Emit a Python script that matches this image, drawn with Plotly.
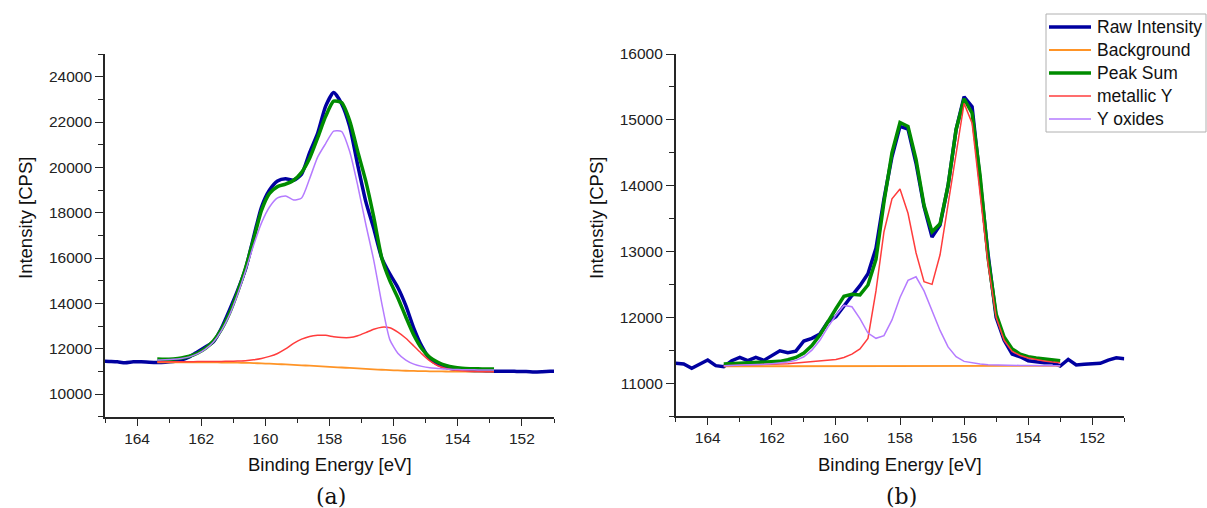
import plotly.graph_objects as go

# ---- (a) Y 3d spectrum -------------------------------------------------
a_raw_be = [165.12, 164.87, 164.62, 164.37, 164.12, 163.87, 163.62, 163.37, 163.12, 162.87,
            162.62, 162.37, 162.12, 161.87, 161.62, 161.37, 161.12, 160.87, 160.62, 160.37,
            160.12, 159.87, 159.62, 159.37, 159.12, 158.87, 158.62, 158.37, 158.12, 157.87,
            157.62, 157.37, 157.12, 156.87, 156.62, 156.37, 156.12, 155.87, 155.62, 155.37,
            155.12, 154.87, 154.62, 154.37, 154.12, 153.87, 153.62, 153.37, 153.12, 152.87,
            152.62, 152.37, 152.12, 151.87, 151.62, 151.37, 151.12, 150.87]
a_raw = [11460, 11440, 11420, 11380, 11420, 11420, 11400, 11390, 11400, 11430,
         11500, 11640, 11860, 12080, 12300, 12900, 13700, 14550, 15500, 16900,
         18250, 19000, 19400, 19500, 19430, 19700, 20650, 21500, 22700, 23300,
         22800, 21800, 20100, 18500, 17300, 16000, 15300, 14700, 13900, 12900,
         12100, 11550, 11300, 11180, 11100, 11060, 11040, 11030, 11020, 11010,
         11000, 11010, 10990, 10995, 10975, 10985, 11000, 11020]

a_fit_be = [163.37, 163.12, 162.87, 162.62, 162.37, 162.12, 161.87, 161.62, 161.37, 161.12,
            160.87, 160.62, 160.37, 160.12, 159.87, 159.62, 159.37, 159.12, 158.87, 158.62,
            158.37, 158.12, 157.87, 157.62, 157.37, 157.12, 156.87, 156.62, 156.37, 156.12,
            155.87, 155.62, 155.37, 155.12, 154.87, 154.62, 154.37, 154.12, 153.87, 153.62,
            153.37, 153.12, 152.87]
a_background = [11400, 11400, 11400, 11400, 11400, 11400, 11398, 11395, 11392, 11388,
                11382, 11375, 11365, 11352, 11338, 11322, 11305, 11286, 11268, 11250,
                11230, 11210, 11190, 11170, 11150, 11130, 11110, 11090, 11072, 11055,
                11040, 11028, 11018, 11010, 11003, 10998, 10994, 10991, 10989, 10987,
                10986, 10985, 10985]
a_peak_sum = [11540, 11530, 11550, 11590, 11665, 11800, 12010, 12340, 12850, 13560,
              14480, 15550, 16800, 18100, 18850, 19150, 19260, 19430, 19780, 20400,
              21300, 22250, 22920, 22850, 22050, 20700, 19400, 17800, 16000, 15000,
              14250, 13400, 12600, 12000, 11620, 11400, 11260, 11180, 11140, 11120,
              11110, 11105, 11100]
a_metallic = [11420, 11420, 11420, 11425, 11425, 11430, 11430, 11435, 11440, 11445,
              11455, 11470, 11510, 11570, 11660, 11790, 11990, 12230, 12420, 12540,
              12590, 12590, 12530, 12490, 12490, 12570, 12710, 12860, 12950, 12920,
              12730, 12460, 12120, 11770, 11460, 11250, 11130, 11060, 11030, 11010,
              11000, 10995, 10990]
a_oxides = [11500, 11510, 11530, 11570, 11640, 11770, 11980, 12300, 12800, 13480,
            14380, 15420, 16550, 17550, 18250, 18650, 18740, 18560, 18650, 19500,
            20450, 21050, 21600, 21580, 20700, 19200, 17500, 15900, 14000, 12400,
            11800, 11500, 11320, 11220, 11160, 11130, 11100, 11085, 11075, 11070,
            11065, 11060, 11060]

# ---- (b) Y 3d spectrum -------------------------------------------------
b_raw_be = [165.0, 164.75, 164.5, 164.25, 164.0, 163.75, 163.5, 163.25, 163.0, 162.75,
            162.5, 162.25, 162.0, 161.75, 161.5, 161.25, 161.0, 160.75, 160.5, 160.25,
            160.0, 159.75, 159.5, 159.25, 159.0, 158.75, 158.5, 158.25, 158.0, 157.75,
            157.5, 157.25, 157.0, 156.75, 156.5, 156.25, 156.0, 155.75, 155.5, 155.25,
            155.0, 154.75, 154.5, 154.25, 154.0, 153.75, 153.5, 153.25, 153.0, 152.75,
            152.5, 152.25, 152.0, 151.75, 151.5, 151.25, 151.0]
b_raw = [11300, 11290, 11225, 11290, 11350, 11265, 11250, 11340, 11390, 11340,
         11390, 11345, 11420, 11490, 11460, 11485, 11640, 11680, 11745, 11930,
         12010, 12180, 12330, 12480, 12660, 13050, 13800, 14440, 14900, 14860,
         14340, 13680, 13220, 13400, 14000, 14850, 15350, 15200, 14100, 12950,
         12000, 11650, 11440, 11400, 11340, 11320, 11310, 11310, 11260, 11360,
         11275, 11285, 11290, 11300, 11350, 11385, 11370]

b_fit_be = [163.5, 163.25, 163.0, 162.75, 162.5, 162.25, 162.0, 161.75, 161.5, 161.25,
            161.0, 160.75, 160.5, 160.25, 160.0, 159.75, 159.5, 159.25, 159.0, 158.75,
            158.5, 158.25, 158.0, 157.75, 157.5, 157.25, 157.0, 156.75, 156.5, 156.25,
            156.0, 155.75, 155.5, 155.25, 155.0, 154.75, 154.5, 154.25, 154.0, 153.75,
            153.5, 153.25, 153.0]
b_background = [11255, 11255, 11255, 11255, 11255, 11256, 11256, 11256, 11256, 11257,
                11257, 11257, 11257, 11258, 11258, 11258, 11258, 11259, 11259, 11259,
                11259, 11260, 11260, 11260, 11260, 11260, 11261, 11261, 11261, 11261,
                11261, 11262, 11262, 11262, 11262, 11262, 11262, 11262, 11262, 11262,
                11262, 11262, 11262]
b_peak_sum = [11290, 11295, 11298, 11300, 11305, 11310, 11318, 11330, 11355, 11390,
              11455, 11570, 11730, 11940, 12130, 12320, 12350, 12340, 12490, 12880,
              13750, 14500, 14960, 14900, 14400, 13700, 13300, 13420, 14000, 14850,
              15320, 15100, 14150, 12900, 12050, 11700, 11520, 11440, 11400, 11380,
              11365, 11350, 11340]
b_metallic = [11262, 11265, 11268, 11270, 11275, 11280, 11285, 11290, 11295, 11305,
              11315, 11325, 11335, 11345, 11360, 11390, 11440, 11520, 11680, 12400,
              13300, 13800, 13950, 13580, 12980, 12540, 12500, 12950, 13700, 14500,
              15250, 14950, 13900, 12800, 12000, 11650, 11480, 11420, 11380, 11355,
              11335, 11320, 11310]
b_oxides = [11265, 11268, 11270, 11275, 11280, 11285, 11295, 11305, 11320, 11345,
            11400, 11500, 11650, 11850, 12030, 12180, 12160, 11980, 11760, 11680,
            11720, 11960, 12300, 12560, 12615, 12400, 12100, 11800, 11550, 11400,
            11330, 11305, 11290, 11280, 11275, 11272, 11270, 11268, 11267, 11266,
            11265, 11265, 11265]

series_names = ["Raw Intensity", "Background", "Peak Sum", "metallic Y", "Y oxides"]
series_colors = ["#0000A0", "#FF9426", "#008C00", "#FF3C3C", "#B57BFF"]
series_widths = [3.5, 1.8, 3.5, 1.5, 1.5]

x_tick_vals = [164, 162, 160, 158, 156, 154, 152]

FONT = "Liberation Sans, Arial, sans-serif"
AXC = "#262626"
W, H = 1207, 508

panels = [
    (a_raw_be, a_raw, a_fit_be, [a_background, a_peak_sum, a_metallic, a_oxides], "x", "y"),
    (b_raw_be, b_raw, b_fit_be, [b_background, b_peak_sum, b_metallic, b_oxides], "x2", "y2"),
]

fig = go.Figure()
for raw_be, raw, fit_be, comps, xa, ya in panels:
    ys = [raw] + comps
    xs = [raw_be] + [fit_be] * 4
    for name, color, width, xv, yv in zip(series_names, series_colors, series_widths, xs, ys):
        fig.add_trace(go.Scatter(
            x=xv, y=yv, mode="lines", name=name, xaxis=xa, yaxis=ya,
            line=dict(color=color, width=width, shape="spline" if xa == "x" else "linear",
                      smoothing=0.6),
            showlegend=False,
        ))

def xaxis(domain, anchor):
    return dict(domain=domain, anchor=anchor, range=[165, 151], tickmode="array",
                tickvals=x_tick_vals, showline=True, linecolor=AXC, linewidth=1.6,
                ticks="outside", ticklen=7, tickwidth=1.4, tickcolor=AXC,
                minor=dict(ticks="outside", ticklen=4, tickwidth=1.4, tickcolor=AXC,
                           tickmode="linear", tick0=151, dtick=1),
                showgrid=False, zeroline=False, automargin=False,
                tickfont=dict(family=FONT, size=15.5, color="#222"))

def yaxis(domain, anchor, rng, dtick):
    return dict(domain=domain, anchor=anchor, range=rng, tickmode="linear", tick0=0,
                dtick=dtick, tickformat="d", showline=True, linecolor=AXC, linewidth=1.6,
                ticks="outside", ticklen=8, tickwidth=1.4, tickcolor=AXC,
                minor=dict(ticks="outside", ticklen=5, tickwidth=1.4, tickcolor=AXC,
                           tickmode="linear", tick0=0, dtick=dtick / 2),
                showgrid=False, zeroline=False, automargin=False,
                tickfont=dict(family=FONT, size=15.5, color="#222"))

fig.update_layout(
    width=W, height=H, margin=dict(l=0, r=0, t=0, b=0, autoexpand=False),
    paper_bgcolor="white", plot_bgcolor="white",
    xaxis=xaxis([105 / W, 554 / W], "y"),
    yaxis=yaxis([1 - 416.7 / H, 1 - 54 / H], "x", [9000, 25000], 2000),
    xaxis2=xaxis([675.7 / W, 1124.3 / W], "y2"),
    yaxis2=yaxis([1 - 416 / H, 1 - 54 / H], "x2", [10500, 16000], 1000),
    showlegend=False,
)

# Legend box in the top-right corner: sample line + label per series
LEG_LEFT, LEG_TOP, LEG_ROW, LEG_PAD = 1046, 14, 23, 13
fig.add_shape(type="rect", xref="paper", yref="paper",
              x0=LEG_LEFT / W, x1=1206 / W,
              y0=1 - (LEG_TOP + LEG_ROW * len(series_names) + 3) / H, y1=1 - LEG_TOP / H,
              line=dict(color="#B0B0B0", width=1), fillcolor="white", layer="above")
for i, (name, color, width) in enumerate(zip(series_names, series_colors, series_widths)):
    yc = 1 - (LEG_TOP + LEG_PAD + LEG_ROW * i) / H
    fig.add_shape(type="line", xref="paper", yref="paper",
                  x0=(LEG_LEFT + 3) / W, x1=(LEG_LEFT + 45) / W, y0=yc, y1=yc,
                  line=dict(color=color, width=width), layer="above")
    fig.add_annotation(text=name, xref="paper", yref="paper", x=(LEG_LEFT + 49) / W, y=yc,
                       xanchor="left", yanchor="middle", showarrow=False,
                       font=dict(family=FONT, size=17.5, color="#111"))

title_font = dict(family=FONT, size=18.5, color="#111")
label_font = dict(family="DejaVu Serif, serif", size=22, color="#111")
annotations = [
    dict(text="Intensity [CPS]", x=25 / W, y=1 - 218 / H, textangle=-90, font=title_font),
    dict(text="Intenstiy [CPS]", x=596 / W, y=1 - 218 / H, textangle=-90, font=title_font),
    dict(text="Binding Energy [eV]", x=329.5 / W, y=1 - 464 / H, font=title_font),
    dict(text="Binding Energy [eV]", x=900 / W, y=1 - 464 / H, font=title_font),
    dict(text="(a)", x=331 / W, y=1 - 496 / H, font=label_font),
    dict(text="(b)", x=901 / W, y=1 - 496 / H, font=label_font),
]
for a in annotations:
    fig.add_annotation(xref="paper", yref="paper", xanchor="center", yanchor="middle",
                       showarrow=False, **a)

fig.write_html("out.html")
